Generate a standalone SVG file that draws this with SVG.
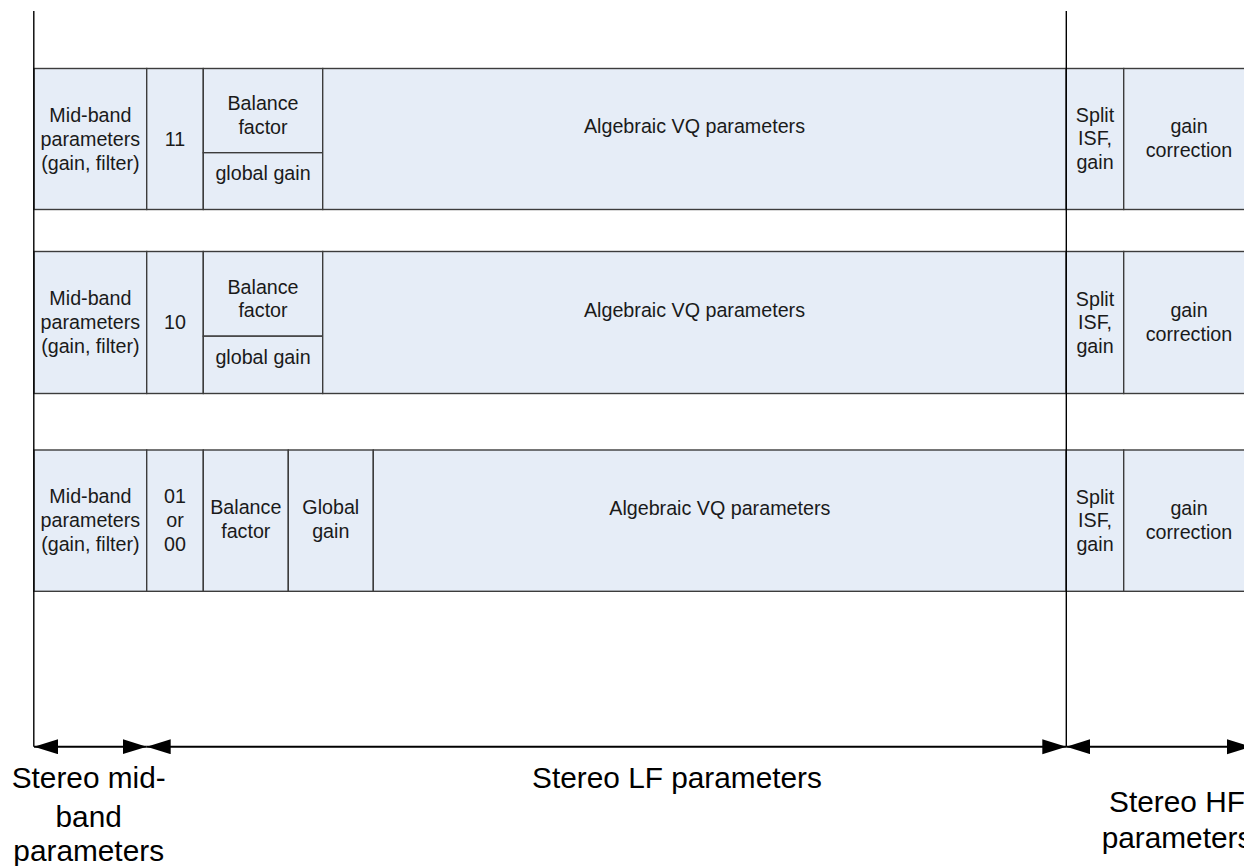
<svg xmlns="http://www.w3.org/2000/svg" width="1244" height="866" viewBox="0 0 1244 866">
<style>
.cell{fill:#E6EDF7;stroke:#3c3c3c;stroke-width:1.4}
.t{font-family:"Liberation Sans",Arial,sans-serif;font-size:19.7px;fill:#1a1a1a;text-anchor:middle}
.lbl{font-family:"Liberation Sans",Arial,sans-serif;font-size:29.8px;fill:#000;text-anchor:middle}
.vl{stroke:#000;stroke-width:1.4;fill:none}
.ar{stroke:#000;stroke-width:2;fill:none;marker-start:url(#ah);marker-end:url(#ah)}
</style>
<defs>
<marker id="ah" markerUnits="userSpaceOnUse" markerWidth="25" markerHeight="16" refX="24" refY="7.5" orient="auto-start-reverse" viewBox="0 0 25 16">
<path d="M0,0 L24,7.5 L0,15 z" fill="#000"/>
</marker>
</defs>
<rect width="1244" height="866" fill="#fff"/>

<g id="row1">
<g id="r1-mid"><rect class="cell" x="34" y="68.5" width="112.7" height="141"/>
<text class="t" x="90.4" y="121.5">Mid-band</text><text class="t" x="90.4" y="145.5">parameters</text><text class="t" x="90.4" y="169.5">(gain, filter)</text></g>
<g id="r1-code"><rect class="cell" x="146.7" y="68.5" width="56.6" height="141"/><text class="t" x="175" y="145.5">11</text></g>
<g id="r1-bal"><rect class="cell" x="203.3" y="68.5" width="119.4" height="84.2"/><text class="t" x="263" y="110">Balance</text><text class="t" x="263" y="133.5">factor</text></g>
<g id="r1-gg"><rect class="cell" x="203.3" y="152.7" width="119.4" height="56.8"/><text class="t" x="263" y="180">global gain</text></g>
<g id="r1-vq"><rect class="cell" x="322.7" y="68.5" width="743.6" height="141"/><text class="t" x="694.5" y="132.7">Algebraic VQ parameters</text></g>
<g id="r1-isf"><rect class="cell" x="1066.3" y="68.5" width="57.4" height="141"/><text class="t" x="1095" y="121.7">Split</text><text class="t" x="1095" y="145.3">ISF,</text><text class="t" x="1095" y="169">gain</text></g>
<g id="r1-gc"><rect class="cell" x="1123.7" y="68.5" width="140" height="141"/><text class="t" x="1189" y="133.3">gain</text><text class="t" x="1189" y="156.5">correction</text></g>
</g>

<g id="row2">
<g id="r2-mid"><rect class="cell" x="34" y="251.5" width="112.7" height="142"/>
<text class="t" x="90.4" y="305">Mid-band</text><text class="t" x="90.4" y="329">parameters</text><text class="t" x="90.4" y="353">(gain, filter)</text></g>
<g id="r2-code"><rect class="cell" x="146.7" y="251.5" width="56.6" height="142"/><text class="t" x="175" y="329">10</text></g>
<g id="r2-bal"><rect class="cell" x="203.3" y="251.5" width="119.4" height="84.7"/><text class="t" x="263" y="293.5">Balance</text><text class="t" x="263" y="317">factor</text></g>
<g id="r2-gg"><rect class="cell" x="203.3" y="336.2" width="119.4" height="57.3"/><text class="t" x="263" y="364">global gain</text></g>
<g id="r2-vq"><rect class="cell" x="322.7" y="251.5" width="743.6" height="142"/><text class="t" x="694.5" y="316.5">Algebraic VQ parameters</text></g>
<g id="r2-isf"><rect class="cell" x="1066.3" y="251.5" width="57.4" height="142"/><text class="t" x="1095" y="305.5">Split</text><text class="t" x="1095" y="329">ISF,</text><text class="t" x="1095" y="353">gain</text></g>
<g id="r2-gc"><rect class="cell" x="1123.7" y="251.5" width="140" height="142"/><text class="t" x="1189" y="317">gain</text><text class="t" x="1189" y="340.5">correction</text></g>
</g>

<g id="row3">
<g id="r3-mid"><rect class="cell" x="34" y="450" width="112.7" height="141.3"/>
<text class="t" x="90.4" y="502.7">Mid-band</text><text class="t" x="90.4" y="526.7">parameters</text><text class="t" x="90.4" y="550.7">(gain, filter)</text></g>
<g id="r3-code"><rect class="cell" x="146.7" y="450" width="56.6" height="141.3"/><text class="t" x="175" y="502.7">01</text><text class="t" x="175" y="526.7">or</text><text class="t" x="175" y="550.7">00</text></g>
<g id="r3-bal"><rect class="cell" x="203.3" y="450" width="85" height="141.3"/><text class="t" x="245.8" y="514.3">Balance</text><text class="t" x="245.8" y="538.3">factor</text></g>
<g id="r3-gg"><rect class="cell" x="288.3" y="450" width="85" height="141.3"/><text class="t" x="330.8" y="514.3">Global</text><text class="t" x="330.8" y="538.3">gain</text></g>
<g id="r3-vq"><rect class="cell" x="373.3" y="450" width="693" height="141.3"/><text class="t" x="719.8" y="514.7">Algebraic VQ parameters</text></g>
<g id="r3-isf"><rect class="cell" x="1066.3" y="450" width="57.4" height="141.3"/><text class="t" x="1095" y="503.5">Split</text><text class="t" x="1095" y="527">ISF,</text><text class="t" x="1095" y="551">gain</text></g>
<g id="r3-gc"><rect class="cell" x="1123.7" y="450" width="140" height="141.3"/><text class="t" x="1189" y="515">gain</text><text class="t" x="1189" y="538.5">correction</text></g>
</g>

<g id="connectors">
<line class="vl" x1="33.8" y1="11" x2="33.8" y2="746.7"/>
<line class="vl" x1="1066.3" y1="11" x2="1066.3" y2="746.7"/>
<line class="ar" x1="34" y1="746.7" x2="146.7" y2="746.7"/>
<line class="ar" x1="146.7" y1="746.7" x2="1066.3" y2="746.7"/>
<line class="ar" x1="1066.3" y1="746.7" x2="1251" y2="746.7"/>
</g>

<g id="labels">
<text class="lbl" x="88.7" y="788">Stereo mid-</text>
<text class="lbl" x="88.7" y="827">band</text>
<text class="lbl" x="88.7" y="861">parameters</text>
<text class="lbl" x="677" y="787.7">Stereo LF parameters</text>
<text class="lbl" x="1177" y="811.7">Stereo HF</text>
<text class="lbl" x="1177" y="847.5">parameters</text>
</g>
</svg>
